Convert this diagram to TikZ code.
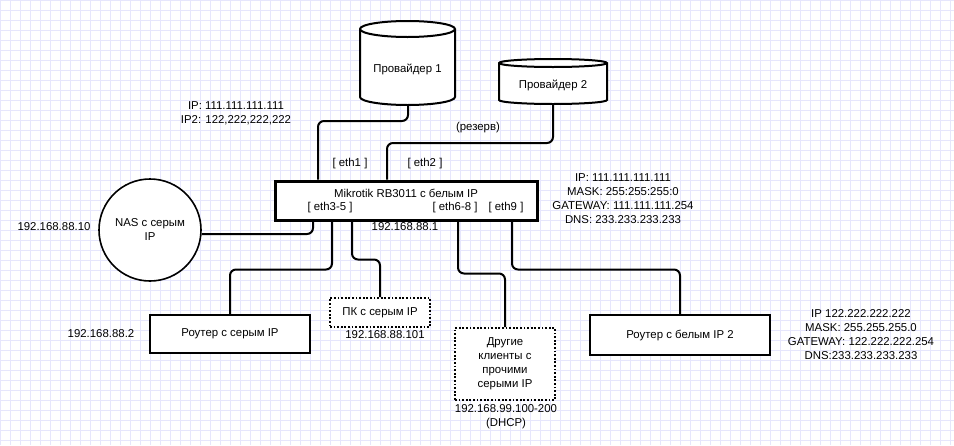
\documentclass[tikz,border=0pt]{standalone}
\usepackage{fontspec}
\setmainfont{Liberation Sans}
\usepackage{tikz}
\usetikzlibrary{positioning,calc}
\definecolor{gridLavender}{RGB}{230,230,252}

\begin{document}
\begin{tikzpicture}[
    x=1pt, y=-1pt,
    font=\fontsize{11.4}{14}\selectfont,
    box/.style={rectangle, draw, line width=2pt, fill=white, align=center},
    dotbox/.style={rectangle, draw, line width=1.6pt, dash pattern=on 1.8pt off 1.8pt, fill=white, align=center},
    nas/.style={circle, draw, line width=1.6pt, fill=white, align=center, minimum size=102},
    cyl/.style={draw, line width=2pt, fill=white},
    link/.style={line width=2pt, rounded corners=6pt},
    lbl/.style={align=center, inner sep=0pt}
]
\useasboundingbox (0,0) rectangle (954,445);

% Background grid
\foreach \gx in {0,10,...,950}
    \draw[gridLavender, line width=0.9pt] (\gx,0) -- (\gx,445);
\foreach \gy in {0,10,...,440}
    \draw[gridLavender, line width=0.9pt] (0,\gy) -- (954,\gy);

% Providers
\draw[cyl] (360,29) -- (360,97) arc[start angle=180, end angle=0, x radius=47.5, y radius=8]
    -- (455,29) arc[start angle=0, end angle=-180, x radius=47.5, y radius=8] -- cycle;
\draw[line width=2pt] (360,29) arc[start angle=180, end angle=0, x radius=47.5, y radius=8];
\node[lbl] (prov1) at (407.5,69) {Провайдер 1};
\coordinate (prov1bot) at (408,105);

\draw[cyl] (499,63) -- (499,100) arc[start angle=180, end angle=0, x radius=54, y radius=4]
    -- (607,63) arc[start angle=0, end angle=-180, x radius=54, y radius=4] -- cycle;
\draw[line width=2pt] (499,63) arc[start angle=180, end angle=0, x radius=54, y radius=4];
\node[lbl] (prov2) at (553,85) {Провайдер 2};
\coordinate (prov2bot) at (553,104);

% Router
\node[box, line width=3pt, minimum width=262, minimum height=39] (mikrotik) at (406,200.5) {};
\node[lbl] (mtitle) at (406,193) {Mikrotik RB3011 с белым IP};
\node[lbl] (eth35) at (330,208) {[ eth3-5 ]};
\node[lbl] (eth68) at (455,208) {[ eth6-8 ]};
\node[lbl] (eth9) at (506,208) {[ eth9 ]};
\coordinate (port1) at ([xshift=-88]mikrotik.north);
\coordinate (port2) at ([xshift=-19]mikrotik.north);
\coordinate (portnas) at ([xshift=-93]mikrotik.south);
\coordinate (portrg) at ([xshift=-74]mikrotik.south);
\coordinate (portpc) at ([xshift=-54]mikrotik.south);
\coordinate (portoth) at ([xshift=52]mikrotik.south);
\coordinate (portwr) at ([xshift=106]mikrotik.south);

% Clients
\node[nas] (nasdev) at (150,230) {NAS с серым\\IP};
\node[box, minimum width=160, minimum height=38] (rgrey) at (230,334) {Роутер с серым IP};
\node[dotbox, minimum width=100, minimum height=29] (pc) at (380,312.5) {ПК с серым IP};
\node[dotbox, minimum width=100, minimum height=72] (others) at (505,364) {Другие\\клиенты с\\прочими\\серыми IP};
\node[box, minimum width=180, minimum height=40] (rwhite) at (680,335) {Роутер с белым IP 2};

% Links
\draw[link] (prov1bot) -- ++(0,16) -| (port1);
\draw[link] (prov2bot) -- ++(0,39) -| (port2);
\draw[link] (portnas) |- ([yshift=-4pt]nasdev.east);
\draw[link] (portrg) -- ++(0,48) -| (rgrey.north);
\draw[link] (portpc) -- ++(0,38) -| (pc.north);
\draw[link] (portoth) -- ++(0,52) -| (others.north);
\draw[link] (portwr) -- ++(0,48) -| (rwhite.north);

% Labels
\node[lbl] (wanip) at (236,113.5) {IP: 111.111.111.111\\IP2: 122,222,222,222};
\node[lbl] (reserve) at (478,128) {(резерв)};
\node[lbl] (eth1) at (350,164) {[ eth1 ]};
\node[lbl] (eth2) at (425,164) {[ eth2 ]};
\node[lbl] (lanip) at (405,227) {192.168.88.1};
\node[lbl] (mtinfo) at (623,199) {IP: 111.111.111.111\\MASK: 255:255:255:0\\GATEWAY: 111.111.111.254\\DNS: 233.233.233.233};
\node[lbl] (nasip) at (54,227) {192.168.88.10};
\node[lbl] (rgreyip) at (101,334) {192.168.88.2};
\node[lbl] (pcip) at (385,335) {192.168.88.101};
\node[lbl] (othip) at (506,417) {192.168.99.100-200\\(DHCP)};
\node[lbl] (rwinfo) at (861,335) {IP 122.222.222.222\\MASK: 255.255.255.0\\GATEWAY: 122.222.222.254\\DNS:233.233.233.233};

\end{tikzpicture}
\end{document}
